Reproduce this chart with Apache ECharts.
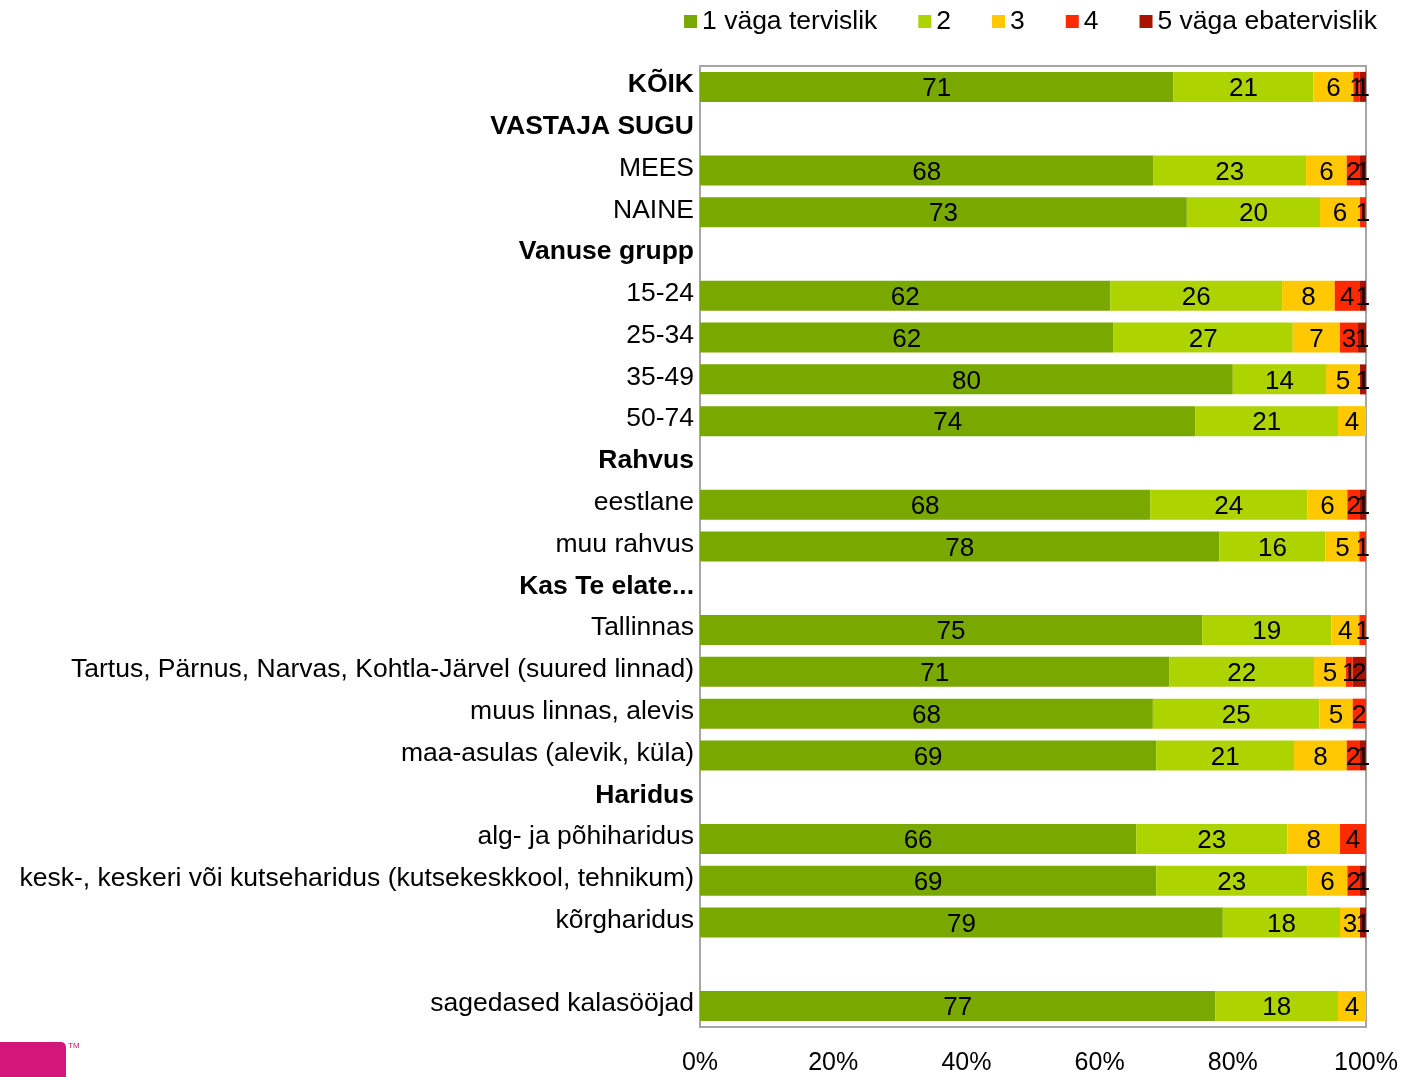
<!DOCTYPE html>
<html><head><meta charset="utf-8">
<script src="https://cdn.jsdelivr.net/npm/echarts@6/dist/echarts.min.js"></script>
<style>html,body{margin:0;padding:0;background:#fff}#c{width:1403px;height:1077px}</style>
</head><body><div id="c"></div>
<script>
var categories = ['KÕIK','VASTAJA SUGU','MEES','NAINE','Vanuse grupp','15-24','25-34','35-49','50-74','Rahvus','eestlane','muu rahvus','Kas Te elate...','Tallinnas','Tartus, Pärnus, Narvas, Kohtla-Järvel (suured linnad)','muus linnas, alevis','maa-asulas (alevik, küla)','Haridus','alg- ja põhiharidus','kesk-, keskeri või kutseharidus (kutsekeskkool, tehnikum)','kõrgharidus',' ','sagedased kalasööjad'];
var headers = ['KÕIK','VASTAJA SUGU','Vanuse grupp','Rahvus','Kas Te elate...','Haridus'];
var seriesNames = ['1 väga tervislik','2','3','4','5 väga ebatervislik'];
var colors = ['#79a800','#add300','#ffc800','#ff2a00','#a81400'];
// values in %, null = header / empty row
var s1 = [71.1,null,68.1,73.1,null,61.6,62.1,80.0,74.4,null,67.6,78.0,null,75.4,70.5,68.0,68.5,null,65.5,68.5,78.5,null,77.4];
var s2 = [21.0,null,22.9,20.0,null,25.8,26.9,14.0,21.4,null,23.6,15.9,null,19.4,21.7,25.0,20.7,null,22.7,22.7,17.6,null,18.4];
var s3 = [6.0,null,6.1,6.0,null,7.9,7.1,5.1,4.2,null,6.0,5.1,null,4.2,4.8,5.0,7.9,null,7.9,6.0,3.0,null,4.2];
var s4 = [0.95,null,2.0,0.9,null,3.8,2.7,0,0,null,1.9,1.0,null,1.0,1.0,2.0,2.0,null,3.9,1.9,0,null,0];
var s5 = [0.95,null,0.9,0,null,0.9,1.2,0.9,0,null,0.9,0,null,0,2.0,0,0.9,null,0,0.9,0.9,null,0];
var xTicks = [0,20,40,60,80,100];

var FONT = '"Liberation Sans", Arial, sans-serif';
var chart = echarts.init(document.getElementById('c'));
var all = [s1,s2,s3,s4,s5];
var series = all.map(function(d,i){
  return {
    name: seriesNames[i], type:'bar', stack:'t', data:d, barWidth:30,
    itemStyle:{color:colors[i]},
    label:{show:true, position:'inside', color:'#000', fontSize:26, fontFamily:FONT, offset:[0,2],
      formatter:function(p){ return (p.value && p.value>0) ? String(Math.round(p.value)) : ''; }},
    emphasis:{disabled:true}
  };
});
chart.setOption({
  animation:false,
  textStyle:{fontFamily:FONT},
  legend:{right:21, top:3, icon:'rect', itemWidth:13, itemHeight:13, itemGap:41,
    textStyle:{fontSize:26.5, color:'#000', fontFamily:FONT, padding:[0,0,0,0]},
    data:seriesNames},
  grid:{left:700, right:37, top:66, bottom:50, show:true, borderColor:'#a6a6a6', borderWidth:2, containLabel:false},
  xAxis:{type:'value', min:0, max:100, interval:20,
    axisLine:{show:false}, axisTick:{show:false}, splitLine:{show:false},
    axisLabel:{fontSize:25, color:'#000', fontFamily:FONT, margin:24, formatter:'{value}%',
      customValues: xTicks}},
  yAxis:{type:'category', inverse:true, data:categories,
    axisLine:{show:true, lineStyle:{color:'#a6a6a6', width:2}}, axisTick:{show:false},
    axisLabel:{fontSize:26.5, color:'#000', fontFamily:FONT, margin:6, padding:[0,0,4,0],
      formatter:function(v){ return headers.indexOf(v)>=0 ? '{b|'+v+'}' : v; },
      rich:{b:{fontWeight:'bold', fontSize:26.5, color:'#000', fontFamily:FONT}}}},
  graphic:[
    {type:'rect', left:-10, top:1042, shape:{width:76, height:50, r:5}, style:{fill:'#d4157a'}},
    {type:'text', left:68, top:1042, style:{text:'TM', fontSize:8, fill:'#d4157a', fontFamily:FONT}}
  ],
  series:series
});
</script></body></html>
